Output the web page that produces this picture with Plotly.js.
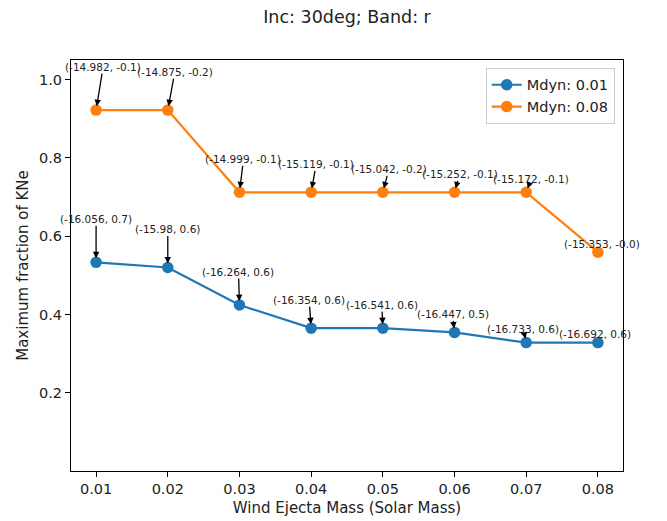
<!DOCTYPE html>
<html>
<head>
<meta charset="utf-8">
<script src="https://cdn.plot.ly/plotly-3.0.1.min.js"></script>
<style>html,body{margin:0;padding:0;background:#fff;}#chart{width:667px;height:521px;}</style>
</head>
<body>
<div id="chart"></div>
<script>
// ---- data ----
const windMass = [0.01, 0.02, 0.03, 0.04, 0.05, 0.06, 0.07, 0.08];
const frac_mdyn001 = [0.533, 0.520, 0.424, 0.365, 0.365, 0.354, 0.328, 0.328];
const frac_mdyn008 = [0.922, 0.922, 0.712, 0.712, 0.712, 0.712, 0.712, 0.559];
const labels_mdyn001 = ["(-16.056, 0.7)", "(-15.98, 0.6)", "(-16.264, 0.6)", "(-16.354, 0.6)",
  "(-16.541, 0.6)", "(-16.447, 0.5)", "(-16.733, 0.6)", "(-16.692, 0.6)"];
const labels_mdyn008 = ["(-14.982, -0.1)", "(-14.875, -0.2)", "(-14.999, -0.1)", "(-15.119, -0.1)",
  "(-15.042, -0.2)", "(-15.252, -0.1)", "(-15.172, -0.1)", "(-15.353, -0.0)"];
const seriesNames = ["Mdyn: 0.01", "Mdyn: 0.08"];
const xTickVals = [0.01, 0.02, 0.03, 0.04, 0.05, 0.06, 0.07, 0.08];
const yTickVals = [0.2, 0.4, 0.6, 0.8, 1.0];

// ---- annotation placement (pixel offsets of label from point) ----
const offY = [-43, -38, -33, -28, -23, -18, -13.5, -8.5];
const offX001 = [0, 0, -1, -2, -1, -2, -3, -3];
const offX008 = [7, 7, 4, 5, 6, 5, 5, 4];

const FONT = "DejaVu Sans, Verdana, sans-serif";
const blue = "#1f77b4", orange = "#ff7f0e";

const traces = [
  {x: windMass, y: frac_mdyn001, name: seriesNames[0], type: "scatter", mode: "lines+markers",
   line: {color: blue, width: 2.2}, marker: {color: blue, size: 11.5}},
  {x: windMass, y: frac_mdyn008, name: seriesNames[1], type: "scatter", mode: "lines+markers",
   line: {color: orange, width: 2.2}, marker: {color: orange, size: 11.5}}
];

function makeAnn(xs, ys, labs, offX) {
  return xs.map((xv, i) => ({
    x: xv, y: ys[i], xref: "x", yref: "y", text: labs[i],
    showarrow: true, ax: offX[i], ay: offY[i], axref: "pixel", ayref: "pixel",
    arrowhead: 2, arrowsize: 1, arrowwidth: 1.3, arrowcolor: "#000", standoff: 4,
    font: {family: FONT, size: 10.5, color: "#222"}, borderpad: 0
  }));
}
const annotations = makeAnn(windMass, frac_mdyn001, labels_mdyn001, offX001)
  .concat(makeAnn(windMass, frac_mdyn008, labels_mdyn008, offX008));

const axisCommon = {
  showgrid: false, zeroline: false, showline: true, mirror: true,
  linecolor: "#000", linewidth: 1, ticks: "outside", ticklen: 5, tickwidth: 1, tickcolor: "#000",
  tickfont: {family: FONT, size: 14.5, color: "#222"}
};

const layout = {
  width: 667, height: 521,
  margin: {l: 71, r: 44, t: 60, b: 50},
  paper_bgcolor: "#fff", plot_bgcolor: "#fff",
  font: {family: FONT, color: "#222"},
  title: {text: "Inc: 30deg; Band: r", font: {family: FONT, size: 17.5, color: "#222"},
          x: 0.5, xref: "paper", xanchor: "center", y: 0.967, yanchor: "middle"},
  xaxis: Object.assign({}, axisCommon, {
    range: [0.0065, 0.0835], tickvals: xTickVals, tickformat: ".2f",
    title: {text: "Wind Ejecta Mass (Solar Mass)", font: {family: FONT, size: 15, color: "#222"}, standoff: 6}
  }),
  yaxis: Object.assign({}, axisCommon, {
    range: [0.0, 1.05], tickvals: yTickVals, tickformat: ".1f",
    title: {text: "Maximum fraction of KNe", font: {family: FONT, size: 15, color: "#222"}, standoff: 6}
  }),
  legend: {x: 0.985, y: 0.981, xanchor: "right", yanchor: "top",
           bgcolor: "#fff", bordercolor: "#cccccc", borderwidth: 1,
           font: {family: FONT, size: 14.5, color: "#222"}},
  annotations: annotations,
  showlegend: true
};

Plotly.newPlot("chart", traces, layout, {displayModeBar: false, staticPlot: true});
</script>
</body>
</html>
